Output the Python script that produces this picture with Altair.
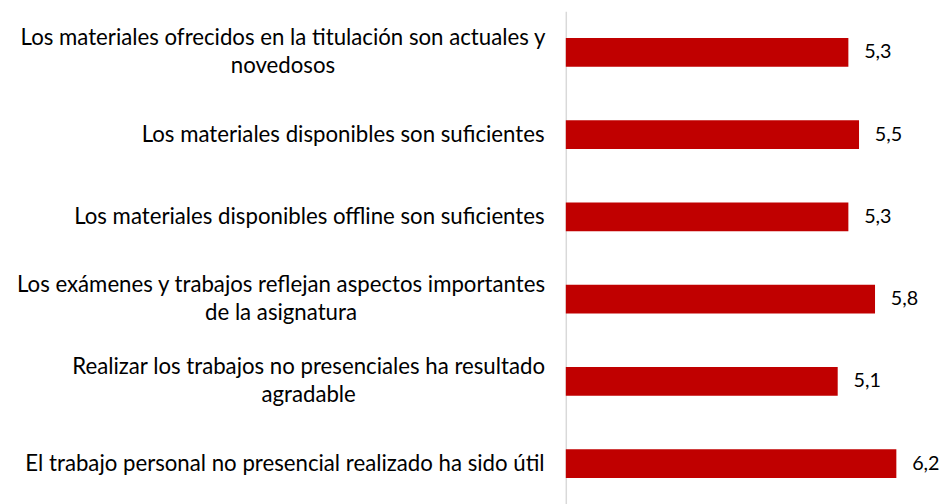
import altair as alt
import pandas as pd

categories = [
    ["Los materiales ofrecidos en la titulación son actuales y", "novedosos"],
    ["Los materiales disponibles son suficientes"],
    ["Los materiales disponibles offline son suficientes"],
    ["Los exámenes y trabajos reflejan aspectos importantes", "de la asignatura"],
    ["Realizar los trabajos no presenciales ha resultado", "agradable"],
    ["El trabajo personal no presencial realizado ha sido útil"],
]
values = [5.3, 5.5, 5.3, 5.8, 5.1, 6.2]

keys = ["|".join(c) for c in categories]
df = pd.DataFrame({"cat": keys, "v": values})

FONT = "Lato"
FS_LABEL = 22.5
FS_VALUE = 20

# two-line labels are centred on their longest line, as in the source chart
pad_conditions = [
    {"test": "indexof(datum.value, 'novedosos') >= 0", "value": 287},
    {"test": "indexof(datum.value, 'de la asignatura') >= 0", "value": 289},
    {"test": "indexof(datum.value, 'agradable') >= 0", "value": 261},
]
multi = "indexof(datum.value, '|') >= 0"

y = alt.Y(
    "cat:N",
    sort=keys,
    scale=alt.Scale(paddingInner=0.65, paddingOuter=0.325),
    axis=alt.Axis(
        title=None,
        labelExpr="split(datum.label, '|')",
        labelFont=FONT,
        labelFontSize=FS_LABEL,
        labelColor="#000000",
        labelLineHeight=28,
        labelPadding={"condition": pad_conditions, "value": 22},
        labelAlign={"condition": {"test": multi, "value": "center"}, "value": "right"},
        labelLimit=0,
        labelOffset={"condition": {"test": multi, "value": -14}, "value": 0},
        ticks=False,
        domainColor="#d9d9d9",
        domainWidth=1.5,
        grid=False,
    ),
)
x = alt.X("v:Q", scale=alt.Scale(domain=[0, 7]), axis=None)

bars = alt.Chart(df).mark_bar(color="#C00000").encode(x=x, y=y)
text = (
    alt.Chart(df)
    .transform_calculate(lbl="replace(format(datum.v, '.1f'), '.', ',')")
    .mark_text(align="left", baseline="middle", dx=16, font=FONT, fontSize=FS_VALUE, color="#000000")
    .encode(x=x, y=y, text="lbl:N")
)

chart = (
    (bars + text)
    .properties(
        width=378,
        height=500,
        autosize=alt.AutoSizeParams(type="none"),
        padding={"left": 565, "top": 0, "right": 0, "bottom": 0},
    )
    .configure_view(stroke=None)
)

chart.save("out.html", embed_options={"renderer": "svg", "actions": False})
